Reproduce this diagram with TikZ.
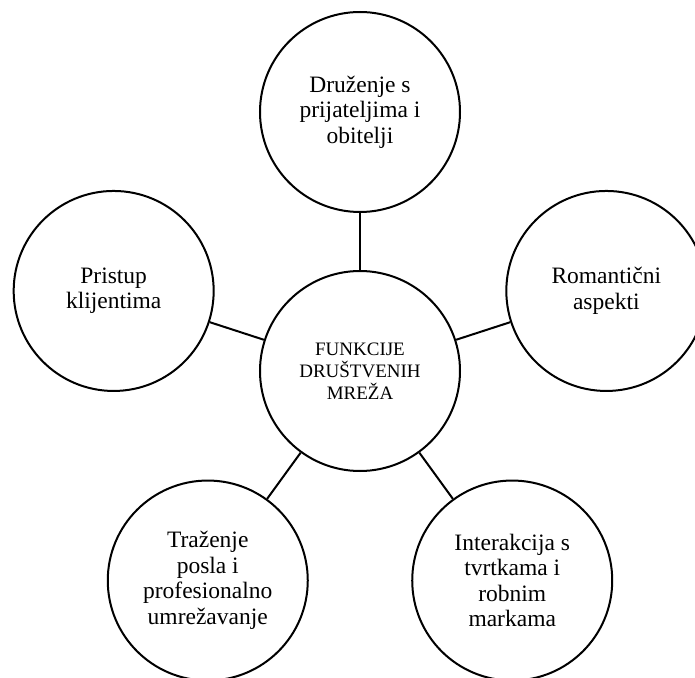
\documentclass[tikz,border=0pt]{standalone}
\usepackage{fontspec}
\setmainfont{Liberation Serif}
\usepackage{tikz}
\usetikzlibrary{positioning}

\begin{document}
\begin{tikzpicture}[x=1pt,y=1pt,line width=2pt,
  bubble/.style={draw,circle,minimum size=200pt,inner sep=0pt,align=center,
    font=\fontsize{23.5}{25.5}\selectfont},
  hub/.style={bubble,font=\fontsize{19}{22}\selectfont}]
  \useasboundingbox (-360,-306) rectangle (335,371);

  % centre
  \node[hub] (hub) at (0,0) {FUNKCIJE\\DRUŠTVENIH\\MREŽA};

  % outer circles
  \node[bubble] (friends) at (90:259) {Druženje s\\prijateljima i\\obitelji};
  \node[bubble] (romance) at (18:259) {Romantični\\aspekti};
  \node[bubble] (brands) at (-54:259) {Interakcija s\\tvrtkama i\\robnim\\markama};
  \node[bubble] (jobs) at (-126:259) {Traženje\\posla i\\profesionalno\\umrežavanje};
  \node[bubble] (clients) at (162:259) {Pristup\\klijentima};

  % spokes
  \draw (hub) -- (friends);
  \draw (hub) -- (romance);
  \draw (hub) -- (brands);
  \draw (hub) -- (jobs);
  \draw (hub) -- (clients);
\end{tikzpicture}
\end{document}
